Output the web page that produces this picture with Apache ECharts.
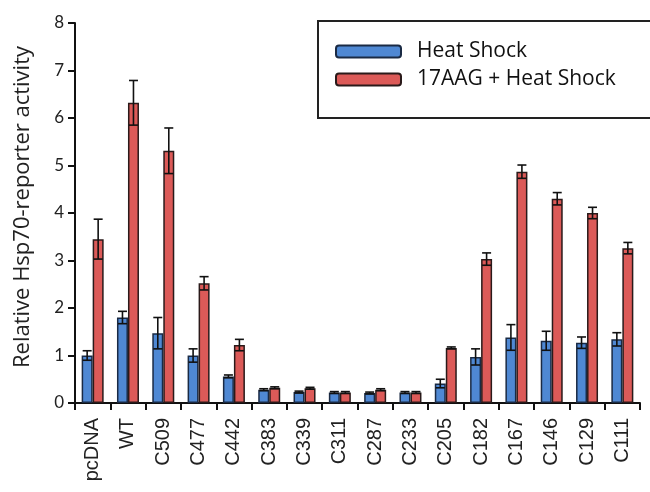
<!DOCTYPE html>
<html>
<head>
<meta charset="utf-8">
<script src="https://cdn.jsdelivr.net/npm/echarts@6/dist/echarts.min.js"></script>
<style>
html, body { margin: 0; padding: 0; background: #fff; }
#chart { width: 650px; height: 492px; }
</style>
</head>
<body>
<div id="chart"></div>
<script>
let categories = ['pcDNA', 'WT', 'C509', 'C477', 'C442', 'C383', 'C339', 'C311', 'C287', 'C233', 'C205', 'C182', 'C167', 'C146', 'C129', 'C111'];
let heatShock = [1.0, 1.8, 1.47, 1.0, 0.56, 0.28, 0.23, 0.22, 0.21, 0.22, 0.41, 0.97, 1.38, 1.31, 1.27, 1.34];
let heatShockErr = [0.1, 0.13, 0.33, 0.14, 0.03, 0.02, 0.02, 0.02, 0.02, 0.02, 0.09, 0.17, 0.27, 0.2, 0.12, 0.14];
let aagHeatShock = [3.45, 6.32, 5.31, 2.52, 1.22, 0.32, 0.31, 0.22, 0.28, 0.22, 1.16, 3.03, 4.87, 4.3, 4.0, 3.26];
let aagHeatShockErr = [0.42, 0.47, 0.48, 0.14, 0.12, 0.02, 0.02, 0.02, 0.02, 0.02, 0.02, 0.13, 0.14, 0.13, 0.12, 0.12];
let yTicks = [0, 1, 2, 3, 4, 5, 6, 7, 8];

let barW = 11;

// draws the error bar for one series, shifted left/right of the category centre
function errorBars(vals, errs, shift) {
	let data = [];
	for (i in vals) {
		data.push([Number(i), vals[i] - errs[i], vals[i] + errs[i]]);
	}
	return {
		type: 'custom',
		z: 10,
		silent: true,
		renderItem: function (params, api) {
			let lo = api.coord([api.value(0), api.value(1)]);
			let hi = api.coord([api.value(0), api.value(2)]);
			let x = lo[0] + shift;
			let half = 4.5;
			let style = { stroke: '#111', lineWidth: 1.6 };
			return {
				type: 'group',
				children: [
					{ type: 'line', shape: { x1: x, y1: lo[1], x2: x, y2: hi[1] }, style: style },
					{ type: 'line', shape: { x1: x - half, y1: hi[1], x2: x + half, y2: hi[1] }, style: style },
					{ type: 'line', shape: { x1: x - half, y1: lo[1], x2: x + half, y2: lo[1] }, style: style }
				]
			};
		},
		encode: { x: 0, y: [1, 2] },
		data: data
	};
}

let frameStyle = { stroke: '#222', lineWidth: 2 };

let chart = echarts.init(document.getElementById('chart'), null, { renderer: 'canvas' });
chart.setOption({
	animation: false,
	backgroundColor: '#fff',
	grid: { left: 75, right: 10, top: 23, bottom: 89 },
	legend: {
		orient: 'vertical',
		left: 335,
		top: 41,
		padding: 0,
		itemWidth: 65,
		itemHeight: 12,
		itemGap: 7,
		textStyle: { fontFamily: 'Open Sans', fontSize: 21, color: '#111', padding: [0, 0, 0, 11] },
		data: ['Heat Shock', '17AAG + Heat Shock']
	},
	// legend frame, open on the right because it runs off the picture
	graphic: [
		{ type: 'line', shape: { x1: 318, y1: 21, x2: 660, y2: 21 }, style: frameStyle, z: 5 },
		{ type: 'line', shape: { x1: 318, y1: 118, x2: 660, y2: 118 }, style: frameStyle, z: 5 },
		{ type: 'line', shape: { x1: 318, y1: 20, x2: 318, y2: 119 }, style: frameStyle, z: 5 }
	],
	xAxis: {
		type: 'category',
		data: categories,
		axisLine: { lineStyle: { color: '#111', width: 2 } },
		axisTick: { show: true, length: 7, lineStyle: { color: '#111', width: 2 } },
		axisLabel: { rotate: 90, fontFamily: 'Liberation Sans', fontSize: 20, color: '#222', margin: 15, interval: 0 }
	},
	yAxis: {
		type: 'value',
		min: 0,
		max: 8,
		interval: 1,
		name: 'Relative Hsp70-reporter activity',
		nameLocation: 'middle',
		nameGap: 41,
		nameTextStyle: { fontFamily: 'Open Sans', fontSize: 22, color: '#222', padding: [0, 0, 0, 12] },
		splitLine: { show: false },
		axisLine: { show: true, lineStyle: { color: '#111', width: 2 } },
		axisTick: { show: true, length: 7, lineStyle: { color: '#111', width: 2 } },
		axisLabel: {
			fontFamily: 'Lato', fontSize: 17, color: '#222', margin: 11,
			formatter: function (v) { return yTicks.indexOf(v) >= 0 ? String(v) : ''; }
		}
	},
	series: [
		{
			name: 'Heat Shock',
			type: 'bar',
			barWidth: barW,
			barGap: '0%',
			itemStyle: { color: '#4f88d3', borderColor: '#1a2a44', borderWidth: 1.5 },
			data: heatShock
		},
		{
			name: '17AAG + Heat Shock',
			type: 'bar',
			barWidth: barW,
			barGap: '0%',
			itemStyle: { color: '#dc5a58', borderColor: '#2a1a1a', borderWidth: 1.5 },
			data: aagHeatShock
		},
		errorBars(heatShock, heatShockErr, -barW / 2),
		errorBars(aagHeatShock, aagHeatShockErr, barW / 2)
	]
});
</script>
</body>
</html>
